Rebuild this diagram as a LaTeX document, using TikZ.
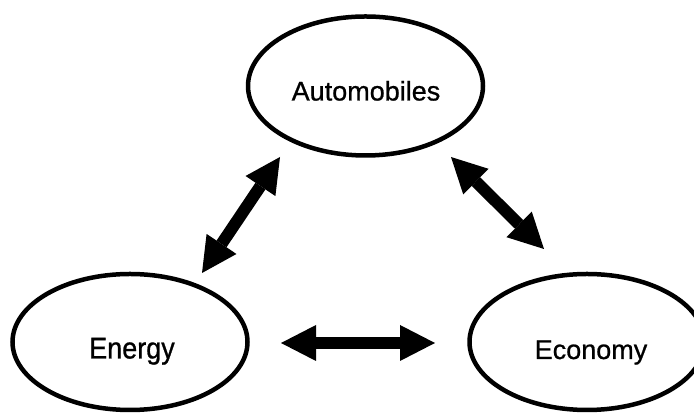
\documentclass[tikz,border=0pt]{standalone}
\usepackage{fontspec}
\setmainfont{Liberation Sans}[FakeBold=0.8]
\newfontfamily\narrowsans{Liberation Sans}[FakeBold=0.8,FakeStretch=0.9]
\usetikzlibrary{shapes.geometric,arrows.meta}
\begin{document}
\begin{tikzpicture}[x=1pt,y=1pt,
  bubble/.style={draw, line width=4.5pt, ellipse, inner sep=0pt, minimum width=235pt},
  lbl/.style={anchor=base, inner sep=0pt, font=\fontsize{27}{30}\selectfont},
  biglbl/.style={anchor=base, inner sep=0pt, font=\narrowsans\fontsize{30}{33}\selectfont},
  bigtip/.tip={Triangle[length=35pt,width=36pt,line width=0pt]},
  dbl/.style={line width=12pt, bigtip-bigtip}]
\useasboundingbox (0,0) rectangle (694,414);
\fill[white] (0,0) rectangle (694,414);
% ellipses
\node[bubble, minimum height=139pt] (auto) at (365.5,328) {};
\node[bubble, minimum height=136pt] (energy) at (130,72) {};
\node[bubble, minimum height=136pt] (econ) at (587,72) {};
% labels
\node[lbl] (autot) at (366,313.5) {Automobiles};
\node[biglbl] (energyt) at (132,55.5) {Energy};
\node[lbl] (econt) at (591,55) {Economy};
% arrow end points
\coordinate (a1) at (202,141);
\coordinate (a2) at (280,257);
\coordinate (b1) at (451,257);
\coordinate (b2) at (544,165);
\coordinate (c1) at (281,71);
\coordinate (c2) at (435,71);
% connectors
\draw[dbl] (a1) -- (a2);
\draw[dbl] (b1) -- (b2);
\draw[dbl] (c1) -- (c2);
\end{tikzpicture}
\end{document}
